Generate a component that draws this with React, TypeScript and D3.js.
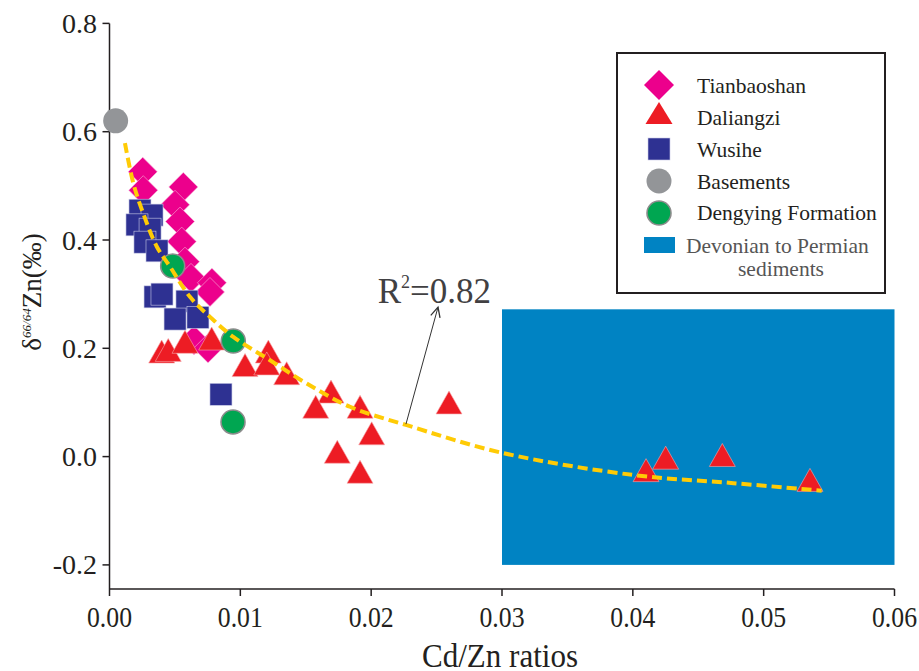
import React from 'react';
import * as d3 from 'd3';

const xTicks = [0, 0.01, 0.02, 0.03, 0.04, 0.05, 0.06];
const xTickLabels = ['0.00', '0.01', '0.02', '0.03', '0.04', '0.05', '0.06'];
const yTicks = [-0.2, 0, 0.2, 0.4, 0.6, 0.8];
const yTickLabels = ['-0.2', '0.0', '0.2', '0.4', '0.6', '0.8'];

const tianbaoshan: [number, number][] = [
  [0.00254, 0.526], [0.00258, 0.492], [0.00564, 0.498], [0.00501, 0.465],
  [0.00539, 0.434], [0.00552, 0.397], [0.00577, 0.36], [0.00623, 0.33],
  [0.00783, 0.321], [0.00768, 0.304], [0.00646, 0.215], [0.00753, 0.2],
];
const wusihe: [number, number][] = [
  [0.00233, 0.455], [0.00325, 0.446], [0.0021, 0.428], [0.0031, 0.42],
  [0.00271, 0.396], [0.00363, 0.38], [0.00348, 0.295], [0.00401, 0.3],
  [0.00592, 0.287], [0.00501, 0.254], [0.00676, 0.257], [0.00852, 0.115],
];
const daliangzi: [number, number][] = [
  [0.00399, 0.194], [0.00449, 0.197], [0.00577, 0.212], [0.00781, 0.218],
  [0.01036, 0.169], [0.01214, 0.194], [0.01202, 0.172], [0.01354, 0.154],
  [0.01693, 0.12], [0.01576, 0.092], [0.01915, 0.092], [0.02004, 0.043],
  [0.01741, 0.009], [0.01915, -0.028], [0.02595, 0.1], [0.04101, -0.025],
  [0.04251, -0.002], [0.04684, 0.003], [0.05354, -0.043],
];
const basements: [number, number][] = [[0.00047, 0.62]];
const dengying: [number, number][] = [[0.00483, 0.352], [0.00946, 0.2135], [0.00944, 0.064]];

const fitCurve: [number, number][] = [
  [0.00118, 0.579], [0.00182, 0.505], [0.00258, 0.449], [0.00361, 0.388],
  [0.00462, 0.351], [0.00615, 0.295], [0.00768, 0.258], [0.00946, 0.221],
  [0.01227, 0.178], [0.01507, 0.135], [0.01838, 0.092], [0.02272, 0.058],
  [0.03, 0.007], [0.04004, -0.034], [0.04768, -0.049], [0.05444, -0.063],
];

const sedimentX = [0.03, 0.06];
const sedimentY = [-0.2, 0.272];

const r2Label = [0.0205, 0.284];
const arrowFrom = [0.02266, 0.06];
const arrowTo = [0.02511, 0.276];

const legendLabels = ['Tianbaoshan', 'Daliangzi', 'Wusihe', 'Basements', 'Dengying Formation'];

const C = {
  magenta: '#EC008C',
  red: '#ED1C24',
  navy: '#2E3192',
  gray: '#939598',
  green: '#00A651',
  blue: '#0083C3',
  yellow: '#FFCB05',
  ink: '#231F20',
};

const FONT = "'Liberation Serif', 'DejaVu Serif', 'Times New Roman', serif";

const diamond = (cx: number, cy: number, h = 14.5) =>
  `M${cx},${cy - h}L${cx + h},${cy}L${cx},${cy + h}L${cx - h},${cy}Z`;
const triangle = (cx: number, cy: number, w = 26, h = 23) =>
  `M${cx},${cy - h / 2}L${cx + w / 2},${cy + h / 2}L${cx - w / 2},${cy + h / 2}Z`;

export default function App() {
  const x = d3.scaleLinear().domain([0, 0.06]).range([109.5, 894.5]);
  const y = d3.scaleLinear().domain([-0.2, 0.8]).range([564.9, 23.4]);
  const axisBottomY = 589;
  const line = d3
    .line<[number, number]>()
    .x((d) => x(d[0]))
    .y((d) => y(d[1]))
    .curve(d3.curveCatmullRom.alpha(0.5));

  const ax = x(arrowFrom[0]);
  const ay = y(arrowFrom[1]);
  const bx = x(arrowTo[0]);
  const by = y(arrowTo[1]);
  const ang = Math.atan2(by - ay, bx - ax);
  const hl = 11;
  const hw = 0.45;
  const h1 = [bx - hl * Math.cos(ang - hw), by - hl * Math.sin(ang - hw)];
  const h2 = [bx - hl * Math.cos(ang + hw), by - hl * Math.sin(ang + hw)];

  const lx = 659;
  const legendY = [85, 113, 149, 181, 213];
  const textX = 697;
  const textBase = [93, 125, 157, 188.5, 220];

  const txt = { fontFamily: FONT };

  return (
    <svg
      width={919}
      height={671}
      style={{ position: 'absolute', left: 0, top: 0, background: '#fff', fontFamily: FONT }}
    >
      <rect width={919} height={671} fill="#fff" />
      {/* sediment box */}
      <rect
        x={x(sedimentX[0])}
        y={y(sedimentY[1])}
        width={x(sedimentX[1]) - x(sedimentX[0])}
        height={y(sedimentY[0]) - y(sedimentY[1])}
        fill={C.blue}
      />

      {/* axes */}
      <line x1={x(0)} x2={x(0)} y1={y(0.8)} y2={axisBottomY} stroke={C.ink} strokeWidth={1.5} />
      <line x1={x(0)} x2={x(0.06)} y1={axisBottomY} y2={axisBottomY} stroke={C.ink} strokeWidth={1.5} />
      {yTicks.map((t, i) => (
        <g key={'yt' + i}>
          <line x1={x(0) - 7} x2={x(0)} y1={y(t)} y2={y(t)} stroke={C.ink} strokeWidth={1.5} />
          <text x={97} y={y(t)} dy="0.34em" textAnchor="end" fontSize={28} fill={C.ink} style={txt}>
            {yTickLabels[i]}
          </text>
        </g>
      ))}
      {xTicks.map((t, i) => (
        <g key={'xt' + i}>
          <line x1={x(t)} x2={x(t)} y1={axisBottomY} y2={axisBottomY + 7} stroke={C.ink} strokeWidth={1.5} />
          <text
            x={x(t) - 22.5}
            y={627}
            fontSize={29}
            fill={C.ink}
            style={txt}
            textLength={45}
            lengthAdjust="spacingAndGlyphs"
          >
            {xTickLabels[i]}
          </text>
        </g>
      ))}
      <text
        x={422}
        y={667}
        fontSize={33}
        fill={C.ink}
        style={txt}
        textLength={156}
        lengthAdjust="spacingAndGlyphs"
      >
        Cd/Zn ratios
      </text>
      <text transform="translate(41,292) rotate(-90)" textAnchor="middle" fill={C.ink} fontSize={27} style={txt}>
        <tspan>δ</tspan>
        <tspan fontSize={13} fontStyle="italic" dy={-10}>66/64</tspan>
        <tspan dy={10}>Zn(‰)</tspan>
      </text>

      {/* data */}
      {tianbaoshan.map((d, i) => (
        <path key={'tb' + i} d={diamond(x(d[0]), y(d[1]))} fill={C.magenta} stroke="#f7b3d9" strokeWidth={0.6} />
      ))}
      {wusihe.map((d, i) => (
        <rect
          key={'ws' + i}
          x={x(d[0]) - 11}
          y={y(d[1]) - 11}
          width={22}
          height={22}
          fill={C.navy}
          stroke="#c9cae6"
          strokeWidth={0.6}
        />
      ))}
      {daliangzi.map((d, i) => (
        <path key={'dl' + i} d={triangle(x(d[0]), y(d[1]))} fill={C.red} stroke="#f7a9ab" strokeWidth={0.6} />
      ))}
      {basements.map((d, i) => (
        <circle key={'bs' + i} cx={x(d[0])} cy={y(d[1])} r={12.5} fill={C.gray} />
      ))}
      {dengying.map((d, i) => (
        <circle key={'dy' + i} cx={x(d[0])} cy={y(d[1])} r={12} fill={C.green} stroke="#8c8c8c" strokeWidth={1.6} />
      ))}

      {/* fit curve */}
      <path d={line(fitCurve) || ''} fill="none" stroke={C.yellow} strokeWidth={4} strokeDasharray="10 5" />

      {/* annotation */}
      <line x1={ax} y1={ay} x2={bx} y2={by} stroke="#333" strokeWidth={1} />
      <polyline
        points={`${h1[0]},${h1[1]} ${bx},${by} ${h2[0]},${h2[1]}`}
        fill="none"
        stroke="#333"
        strokeWidth={1.3}
      />
      <text x={x(r2Label[0])} y={303} fontSize={35} fill="#414042" style={txt}>
        <tspan>R</tspan>
        <tspan fontSize={18} dy={-15}>2</tspan>
        <tspan dy={15}>=0.82</tspan>
      </text>

      {/* legend */}
      <rect x={617} y={53} width={268} height={240} fill="none" stroke={C.ink} strokeWidth={2} />
      <path d={diamond(lx, legendY[0], 15)} fill={C.magenta} />
      <path d={triangle(lx, legendY[1], 27, 22)} fill={C.red} />
      <rect x={lx - 11} y={legendY[2] - 11} width={22} height={22} fill={C.navy} stroke="#c9cae6" strokeWidth={0.6} />
      <circle cx={lx} cy={legendY[3]} r={12.5} fill={C.gray} />
      <circle cx={lx} cy={legendY[4]} r={12} fill={C.green} stroke="#8c8c8c" strokeWidth={1.6} />
      <rect x={644} y={237} width={31} height={16} fill={C.blue} />
      {legendLabels.map((l, i) => (
        <text key={'lg' + i} x={textX} y={textBase[i]} fontSize={21.5} fill={C.ink} style={txt}>
          {l}
        </text>
      ))}
      <text x={686} y={253} fontSize={21.5} fill="#555" style={txt}>
        Devonian to Permian
      </text>
      <text x={781} y={276} fontSize={21.5} fill="#555" textAnchor="middle" style={txt}>
        sediments
      </text>
    </svg>
  );
}
